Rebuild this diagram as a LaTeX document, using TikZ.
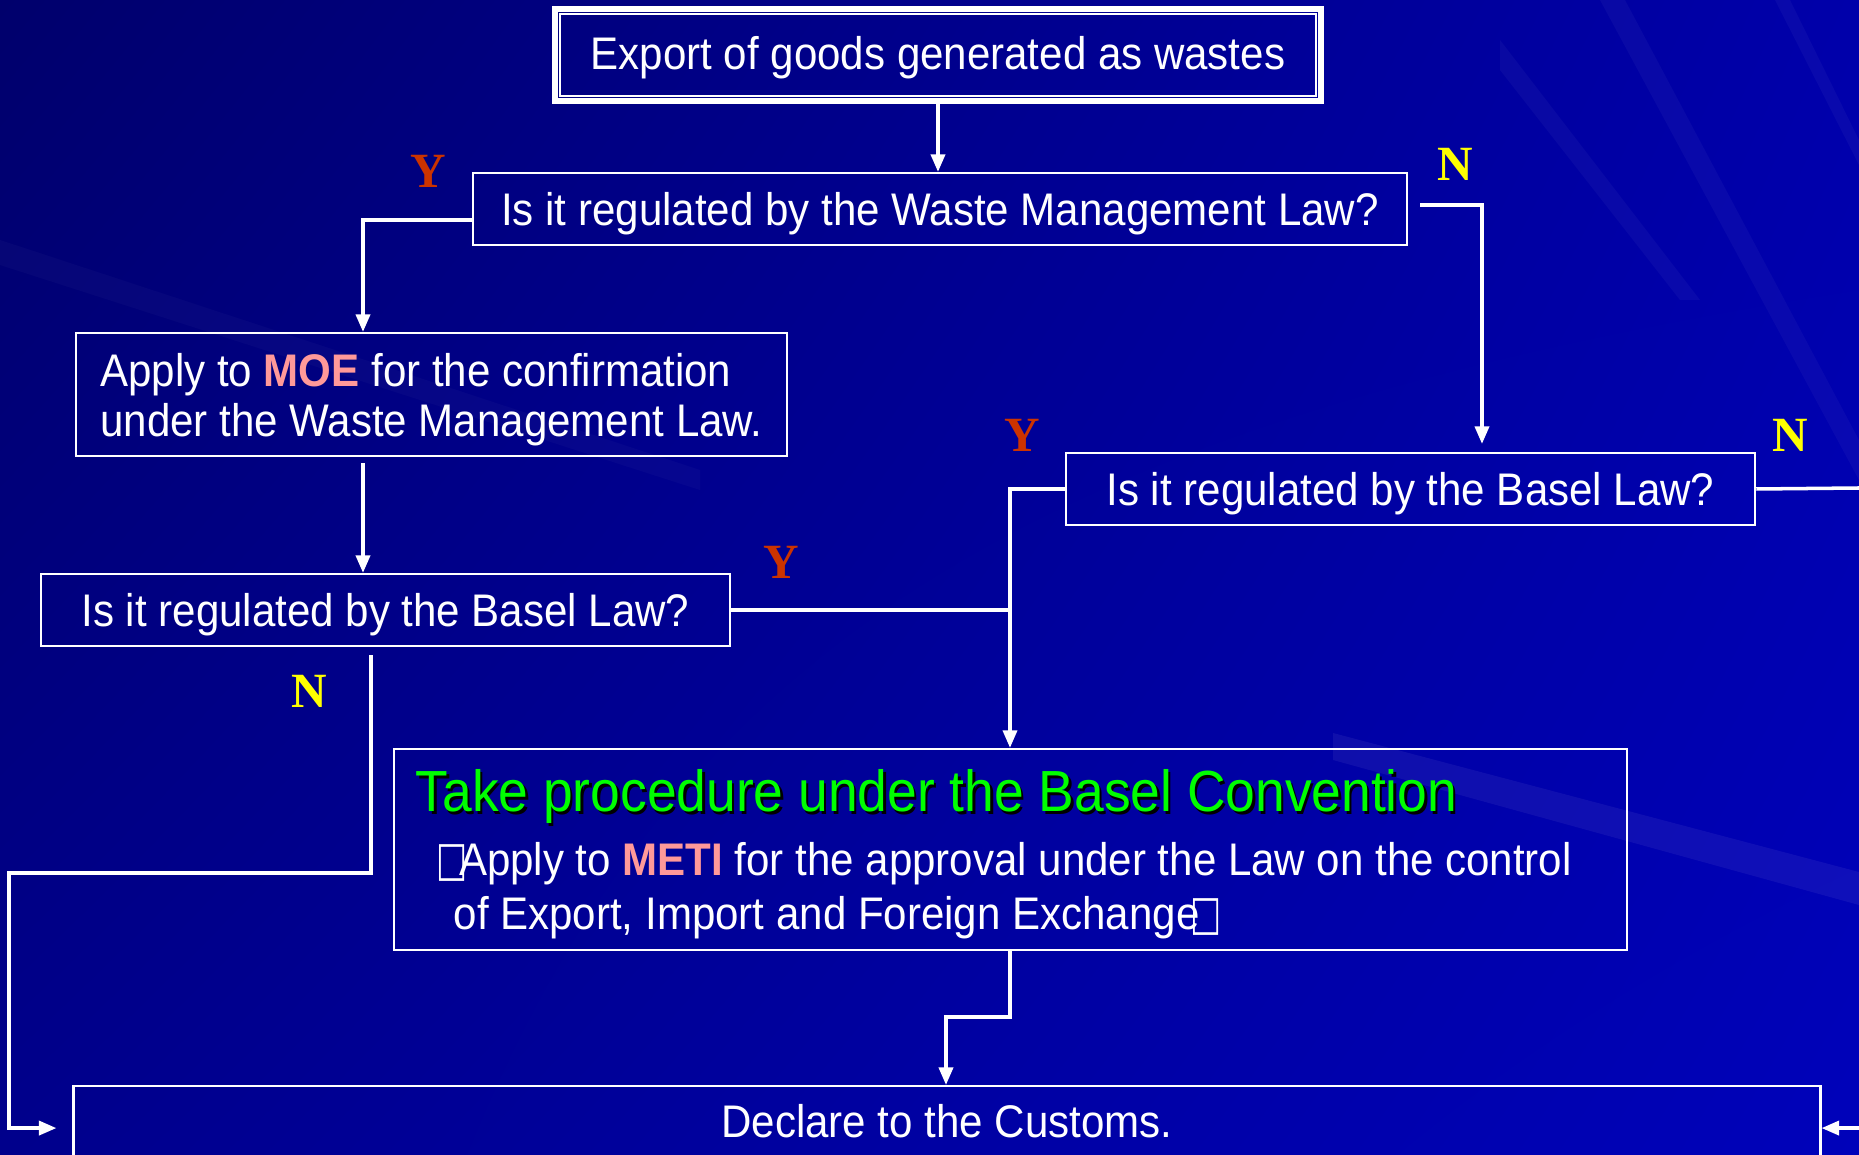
\documentclass[tikz,border=0pt]{standalone}
\usepackage{graphicx}
\usepackage{fontspec}
\setmainfont[FakeStretch=0.92]{Liberation Sans}
\newfontfamily\ynfont{Liberation Serif}
\newfontfamily\symfont{DejaVu Sans}
\usetikzlibrary{arrows.meta,calc,shadings}
\definecolor{bgTL}{RGB}{0,0,108}
\definecolor{bgTR}{RGB}{0,0,170}
\definecolor{bgBL}{RGB}{0,0,140}
\definecolor{bgBR}{RGB}{0,2,186}
\definecolor{ycol}{RGB}{204,51,0}
\definecolor{ncol}{RGB}{255,255,0}
\definecolor{pinkc}{RGB}{255,153,153}
\definecolor{greenc}{RGB}{0,255,0}
\newcommand{\missbox}{{\symfont\scalebox{0.72}[1.05]{□}}}
\tikzset{
  box/.style={draw=white, line width=0.6pt, inner sep=0pt, text=white,
    font=\fontsize{13}{14.2}\selectfont, text height=11pt, text depth=1.6pt},
  txt/.style={inner sep=0pt, text=white, font=\fontsize{13}{14.2}\selectfont},
  conn/.style={draw=white, line width=1pt},
  arr/.style={conn, -{Triangle[width=4pt,length=5pt]}},
  ylab/.style={inner sep=0pt, text=ycol, font=\ynfont\bfseries\fontsize{14}{14}\selectfont},
  nlab/.style={ylab, text=ncol},
  streak/.style={fill=white, opacity=0.035},
}
\begin{document}
\begin{tikzpicture}[x=0.01cm, y=-0.01cm]
\useasboundingbox (0,0) rectangle (1859,1155);
\clip (0,0) rectangle (1859,1155);
% background
\shade[upper left=bgTL, upper right=bgTR, lower left=bgBL, lower right=bgBR] (0,0) rectangle (1859,1155);
\fill[streak, opacity=0.06] (1333,733) -- (1859,872) -- (1859,905) -- (1333,760) -- cycle;
\fill[streak] (1600,0) -- (1625,0) -- (1859,440) -- (1859,480) -- cycle;
\fill[streak] (1775,0) -- (1790,0) -- (1859,140) -- (1859,165) -- cycle;
\fill[streak] (1500,40) -- (1500,70) -- (1680,300) -- (1700,300) -- cycle;
\fill[streak, opacity=0.025] (0,240) -- (700,470) -- (700,490) -- (0,265) -- cycle;

% guide coordinates
\coordinate (xL) at (363,0);
\coordinate (xR) at (1482,0);
\coordinate (xM) at (1010,0);
\coordinate (xN) at (371,0);
\coordinate (k1) at (9,873);
\coordinate (k2) at (946,1017);
\coordinate (eR) at (1859,488);

% nodes
\node[box, line width=1.6pt, minimum width=7.66cm, minimum height=0.92cm, text height=10pt] (top) at (938,55) {Export of goods generated as wastes};
\draw[white, line width=0.6pt] ($(top.north west)+(8,8)$) rectangle ($(top.south east)+(-8,-8)$);

\node[box, minimum width=9.34cm, minimum height=0.72cm] (wml) at (940,209) {Is it regulated by the Waste Management Law?};

\node[box, minimum width=7.11cm, minimum height=1.23cm] (moe) at (431.5,394.5) {};
\node[txt, align=left] (moet) at ($(moe.center)+(0,5)$)
  {Apply to \textbf{\color{pinkc}MOE} for the confirmation\\under the Waste Management Law.};

\node[box, minimum width=6.89cm, minimum height=0.72cm] (bl) at (385.5,610) {Is it regulated by the Basel Law?};
\node[box, minimum width=6.89cm, minimum height=0.72cm] (br) at (1410.5,489) {Is it regulated by the Basel Law?};

\node[box, minimum width=12.33cm, minimum height=2.01cm] (conv) at (1010.5,849.5) {};
\node[anchor=base west, inner sep=0pt, text=black, font=\fontsize{16.5}{16.5}\selectfont] (convts) at (417.5,814.5) {Take procedure under the Basel Convention};
\node[anchor=base west, inner sep=0pt, text=greenc, font=\fontsize{16.5}{16.5}\selectfont] (convt) at (415,812) {Take procedure under the Basel Convention};
\node[txt, anchor=base west] (convl1) at (436,876) {\missbox\kern-2.5pt Apply to \textbf{\color{pinkc}METI} for the approval under the Law on the control};
\node[txt, anchor=base west] (convl2) at (453,930) {of Export, Import and Foreign Exchange\kern-2.5pt\missbox};

\node[box, anchor=north, minimum width=17.46cm, minimum height=0.84cm, text height=9pt, text depth=3.5pt] (cust) at (947,1085) {Declare to the Customs.};

% Y / N labels
\node[ylab] (y1) at (428,171) {Y};
\node[nlab] (n1) at (1455,164) {N};
\node[ylab] (y2) at (1022,435) {Y};
\node[nlab] (n2) at (1790,435) {N};
\node[ylab] (y3) at (781,562) {Y};
\node[nlab] (n3) at (309,691) {N};

% connectors
\draw[arr] (top.south) -- (top.south |- wml.north);
\draw[arr] ($(wml.west)+(0,11)$) -| (moe.north -| xL);
\draw[arr, shorten >=0.08cm] ($(wml.east)+(12,-4)$) -| (br.north -| xR);
\draw[arr, shorten <=0.06cm] (moe.south -| xL) -- (bl.north -| xL);
\draw[conn] (bl.east) -- (bl.east -| xM);
\draw[arr] (br.west) -| (conv.north -| xM);
\draw[arr, shorten >=0.16cm] ($(bl.south -| xN)+(0,8)$) |- (k1) |- (cust.west);
\draw[arr] (conv.south -| xM) |- (k2) -- (k2 |- cust.north);
\draw[conn] (br.east) -- (eR);
\draw[arr] (cust.east -| eR) -- (cust.east);
\end{tikzpicture}
\end{document}
